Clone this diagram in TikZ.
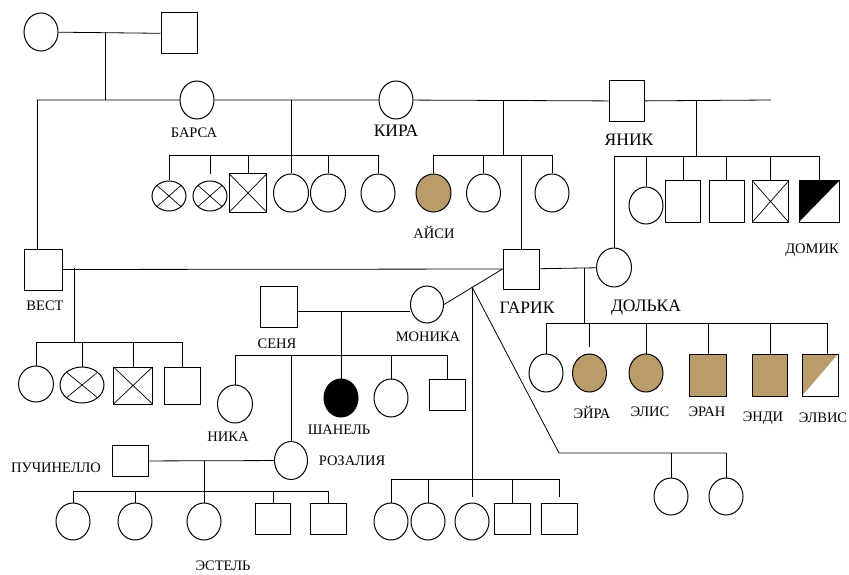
\documentclass[tikz,border=0pt]{standalone}
\usepackage{fontspec}
\setmainfont{Liberation Serif}
\usepackage{tikz}
\usetikzlibrary{shapes.geometric}
\definecolor{burlap}{RGB}{186,156,106}

\begin{document}
\begin{tikzpicture}[
  x=1pt, y=-1pt,
  fem/.style={ellipse, draw, fill=white, line width=1pt, minimum width=34pt, minimum height=38pt, inner sep=0pt},
  male/.style={rectangle, draw, fill=white, line width=1pt, minimum width=36pt, minimum height=41pt, inner sep=0pt},
  crossed/.style={path picture={\draw[line width=0.7pt]
    (path picture bounding box.north west) -- (path picture bounding box.south east)
    (path picture bounding box.north east) -- (path picture bounding box.south west);}},
  affected/.style={fill=black},
  burlapfill/.style={fill=burlap},
  halfblack/.style={path picture={\fill[black] (path picture bounding box.north west)
    -- (path picture bounding box.north east) -- (path picture bounding box.south west) -- cycle;}},
  halfburlap/.style={path picture={\fill[burlap] (path picture bounding box.north west)
    -- (path picture bounding box.north east) -- (path picture bounding box.south west) -- cycle;}},
  link/.style={draw, line width=0.8pt},
  lbl/.style={font=\fontsize{14.5}{16}\selectfont, inner sep=0pt},
  biglbl/.style={font=\fontsize{17.5}{19}\selectfont, inner sep=0pt}
]
\useasboundingbox (0,0) rectangle (849,575);

% generation I
\node[fem] (ancF) at (41,32) {};
\node[male, minimum height=41pt] (ancM) at (179,33.5) {};
\coordinate (ancC) at (105,32);

% generation II
\node[fem] (barsa) at (197,100) {};
\node[fem] (kira) at (396,100) {};
\node[male, minimum width=35pt] (yanik) at (626.5,101) {};
\coordinate (rowW) at (37,100);
\coordinate (rowE) at (771,100);
\node[lbl] (barsaL) at (194,133) {БАРСА};
\node[biglbl] (kiraL) at (396,131) {КИРА};
\node[biglbl] (yanikL) at (629,140) {ЯНИК};

% children of barsa and kira
\node[fem, crossed, minimum height=30pt] (bk1) at (169,196) {};
\node[fem, crossed, minimum height=30pt] (bk2) at (210,196) {};
\node[male, crossed, minimum width=37pt, minimum height=38pt] (bk3) at (248,193) {};
\node[fem, minimum width=35pt] (bk4) at (291,193) {};
\node[fem, minimum width=35pt] (bk5) at (328,193) {};
\node[fem] (bk6) at (378,193) {};
\coordinate (bkW) at (169,155);
\coordinate (bkE) at (378,155);

% children on the kira side
\node[fem, burlapfill, minimum width=35pt] (aisi) at (433.5,193) {};
\node[fem] (kc2) at (483.5,193) {};
\node[fem] (kc4) at (552,193) {};
\coordinate (kTop) at (503,100);
\coordinate (kW) at (433.5,155);
\coordinate (kE) at (552,155);
\node[lbl] (aisiL) at (434,232) {АЙСИ};

% children of yanik
\node[fem, minimum height=37pt] (yc1) at (646,205.5) {};
\node[male, minimum width=35pt] (yc2) at (683,201.5) {};
\node[male, minimum width=35pt] (yc3) at (726.5,201.5) {};
\node[male, crossed] (yc4) at (770.5,201.5) {};
\node[male, halfblack, minimum width=40pt] (domik) at (819,201.5) {};
\coordinate (yTop) at (696,100);
\node[lbl] (domikL) at (812,250) {ДОМИК};

% generation III
\node[male, minimum width=38pt] (vest) at (43,269.5) {};
\node[male, minimum height=40pt] (garik) at (521,269) {};
\node[fem, minimum width=35pt, minimum height=39pt] (dolka) at (614,267.5) {};
\coordinate (ySibW) at (614,156);
\coordinate (ySibE) at (819,156);
\node[lbl] (vestL) at (45,306) {ВЕСТ};
\node[biglbl] (garikL) at (527,308) {ГАРИК};
\node[biglbl] (dolkaL) at (646,308) {ДОЛЬКА};

% children of vest
\node[fem, minimum width=35pt, minimum height=36pt] (vc1) at (36,384) {};
\node[fem, crossed, minimum width=44pt, minimum height=36pt] (vc2) at (82,385) {};
\node[male, crossed, minimum width=39pt, minimum height=37pt] (vc3) at (133,385.5) {};
\node[male, minimum height=37pt] (vc4) at (182.5,385.5) {};
\coordinate (vTop) at (74,268);
\coordinate (vW) at (36,342);
\coordinate (vE) at (182.5,342);

% senya and monika
\node[male, minimum width=37pt] (senya) at (278.5,306.5) {};
\node[fem, minimum width=33pt, minimum height=37pt] (monika) at (427,304.5) {};
\coordinate (smJ) at (341,311);
\coordinate (gmJ) at (472,287);
\node[lbl] (senyaL) at (277,344) {СЕНЯ};
\node[lbl] (monikaL) at (428,337) {МОНИКА};

% children of senya and monika
\node[fem, minimum width=35pt] (nika) at (235,404) {};
\node[fem, minimum width=33pt] (rozalia) at (291,460.5) {};
\node[fem, affected] (shanel) at (341,398) {};
\node[fem] (sc4) at (391,398) {};
\node[male, minimum height=31pt] (sc5) at (447,394.5) {};
\coordinate (sW) at (235,355);
\coordinate (sE) at (447,355);
\node[lbl] (nikaL) at (228,437) {НИКА};
\node[lbl] (shanelL) at (339,430) {ШАНЕЛЬ};
\node[lbl] (rozaliaL) at (352,461) {РОЗАЛИЯ};

% puchinello and rozalia
\node[male, minimum height=31pt] (puch) at (130,461) {};
\node[lbl] (puchL) at (56,468) {ПУЧИНЕЛЛО};
\node[fem, minimum height=37pt] (pc1) at (73,521.5) {};
\node[fem, minimum height=37pt] (pc2) at (135,521.5) {};
\node[fem, minimum height=37pt] (pc3) at (204,521.5) {};
\node[male, minimum width=35pt, minimum height=31pt] (pc4) at (273,518.5) {};
\node[male, minimum height=31pt] (pc5) at (328.5,518.5) {};
\coordinate (pW) at (73,491);
\coordinate (pE) at (328.5,491);
\node[lbl] (estelL) at (223,566) {ЭСТЕЛЬ};

% children below garik and monika
\node[fem, minimum height=37pt] (gb1) at (391,521.5) {};
\node[fem, minimum height=37pt] (gb2) at (428,521.5) {};
\node[fem, minimum height=37pt] (gb3) at (472,521.5) {};
\node[male, minimum height=31pt] (gb4) at (512,518.5) {};
\node[male, minimum height=31pt] (gb5) at (559,518.5) {};
\coordinate (gbW) at (391,479);
\coordinate (gbE) at (559,479);
\coordinate (gdK) at (559,453);
\node[fem, minimum height=37pt] (gd1) at (671,496.5) {};
\node[fem, minimum height=37pt] (gd2) at (726,496.5) {};

% children of garik and dolka
\node[fem] (dc1) at (546,373) {};
\node[fem, burlapfill] (eyra) at (589.5,373) {};
\node[fem, burlapfill] (elis) at (646,373) {};
\node[male, burlapfill, minimum width=37pt, minimum height=42pt] (eran) at (708,375) {};
\node[male, burlapfill, minimum width=35pt, minimum height=42pt] (endi) at (770,375) {};
\node[male, halfburlap, minimum height=42pt] (elvis) at (820,375) {};
\coordinate (gdJ) at (584,268);
\coordinate (dW) at (546,323);
\coordinate (dE) at (827,323);
\node[lbl] (eyraL) at (592,412) {ЭЙРА};
\node[lbl] (elisL) at (650,412) {ЭЛИС};
\node[lbl] (eranL) at (707,412) {ЭРАН};
\node[lbl] (endiL) at (763,418) {ЭНДИ};
\node[lbl] (elvisL) at (823,418) {ЭЛВИС};

% connectors
\draw[link] (ancF) -- (ancM);
\draw[link] (ancC) -- (ancC |- rowW);
\draw[link] (rowW) -- (barsa) -- (kira) -- (yanik) -- (rowE);
\draw[link] (rowW) -- (rowW |- vest.north);

\draw[link] (bkW) -- (bkE);
\draw[link] (bk4 |- rowW) -- (bk4);
\foreach \c in {bk1,bk3,bk5,bk6} \draw[link] (\c |- bkW) -- (\c);
\draw[link, shorten >=6pt] (bk2 |- bkW) -- (bk2);

\draw[link] (kTop) -- (kTop |- kW);
\draw[link] (kW) -- (kE);
\foreach \c in {aisi,kc2,kc4,garik} \draw[link] (\c |- kW) -- (\c);

\draw[link] (yTop) -- (yTop |- ySibW);
\draw[link] (ySibW) -- (ySibE);
\foreach \c in {dolka,yc1,yc2,yc3,yc4,domik} \draw[link] (\c |- ySibW) -- (\c);

\draw[link] (vest) -- (garik) -- (dolka);
\draw[link] (vTop) -- (vTop |- vW);
\draw[link] (vW) -- (vE);
\foreach \c in {vc1,vc2,vc3,vc4} \draw[link] (\c |- vW) -- (\c);

\draw[link] (garik.west) -- (monika.east);
\draw[link] (senya.east |- smJ) -- (monika.west |- smJ);
\draw[link] (smJ) -- (shanel);
\draw[link] (sW) -- (sE);
\foreach \c in {nika,rozalia,sc4,sc5} \draw[link] (\c |- sW) -- (\c);

\draw[link] (puch) -- (rozalia);
\draw[link] (pc3 |- puch) -- (pc3);
\draw[link] (pW) -- (pE);
\foreach \c in {pc1,pc2,pc4,pc5} \draw[link] (\c |- pW) -- (\c);

\draw[link, shorten >=6pt] (gmJ) -- (gb3);
\draw[link] (gbW) -- (gbE);
\foreach \c in {gb1,gb2,gb4} \draw[link] (\c |- gbW) -- (\c);
\draw[link, shorten >=6pt] (gb5 |- gbW) -- (gb5);
\draw[link] (gmJ) -- (gdK) -- (gdK -| gd2);
\foreach \c in {gd1,gd2} \draw[link] (\c |- gdK) -- (\c);

\draw[link] (gdJ) -- (gdJ |- dW);
\draw[link] (dW) -- (dE);
\foreach \c in {dc1,elis,eran,endi} \draw[link] (\c |- dW) -- (\c);
\draw[link, shorten >=7pt] (eyra |- dW) -- (eyra);
\draw[link] (dE) -- (dE |- elvis.north);
\end{tikzpicture}
\end{document}
